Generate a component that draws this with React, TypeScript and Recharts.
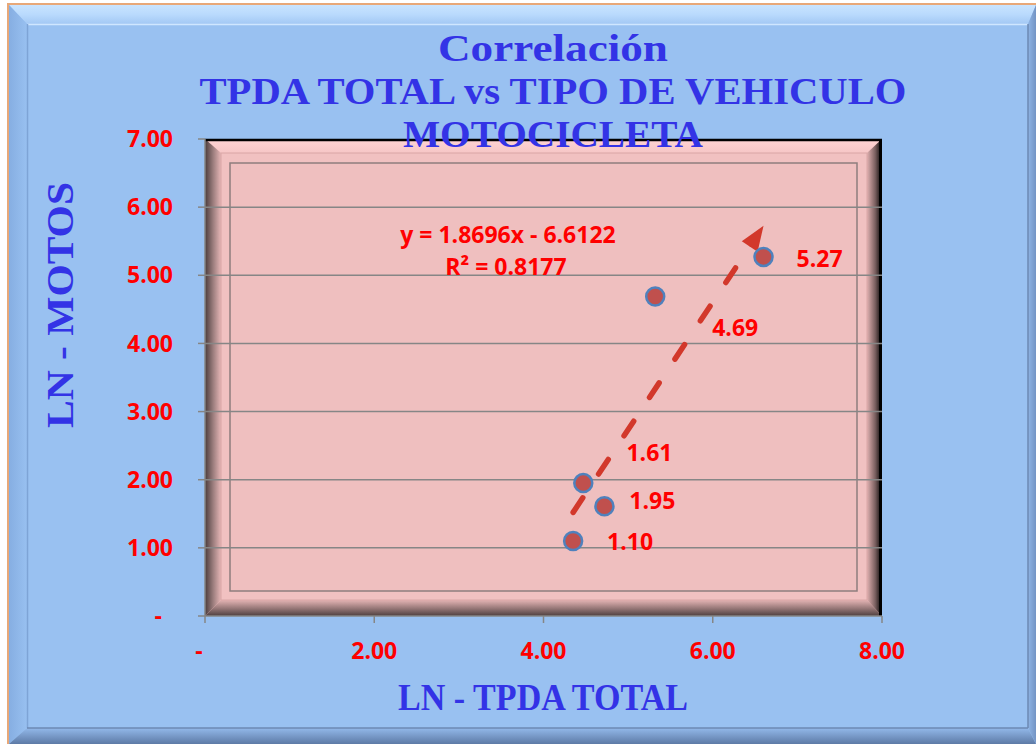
import React from 'react';
import { ScatterChart, Scatter, XAxis, YAxis, CartesianGrid, ReferenceLine } from 'recharts';

// ---- data ----
const lnTpda = [4.35, 4.47, 4.72, 5.32, 6.6];
const lnMotos = [1.1, 1.95, 1.61, 4.69, 5.27];
const xTicks = [0, 2, 4, 6, 8];
const yTicks = [0, 1, 2, 3, 4, 5, 6, 7];
const gridValues = [1, 2, 3, 4, 5, 6];
const trendSlope = 1.8696;
const trendIntercept = -6.6122;
const trendR2 = 0.8177;
const titleLines = ['Correlación', 'TPDA TOTAL vs TIPO DE VEHICULO', 'MOTOCICLETA'];
const xTitle = 'LN - TPDA TOTAL';
const yTitle = 'LN  - MOTOS';

const points = lnTpda.map((x, i) => ({ x, y: lnMotos[i] }));
const xMin = Math.min(...lnTpda);
const xMax = Math.max(...lnTpda);
const trendSegment = [
  { x: xMin, y: trendSlope * xMin + trendIntercept },
  { x: xMax, y: trendSlope * xMax + trendIntercept },
];

// ---- layout / style ----
const W = 1036;
const H = 744;
const PL = 205, PT = 139, PR = 882, PB = 616;
const RED = '#ff0000';
const BLUE = '#3333e6';
const TICK_FONT = "'Open Sans', sans-serif";
const TICK_SIZE = 23;
const TITLE_FONT = "'Liberation Serif', 'Times New Roman', serif";
// manual data label offsets (label start x, label centre y relative to point)
const LABEL_OFFSETS = [
  [34, 1],
  [46, 18],
  [22, -53],
  [57, 31],
  [33, 2],
];

const fmt = (v: number) => (v === 0 ? '-' : v.toFixed(2));

const XTick = (props: any) => {
  const { x, y, payload } = props;
  const v = payload.value;
  return (
    <text x={x + (v === 0 ? -6 : 0)} y={y} dy="0.71em" textAnchor="middle"
      fontFamily={TICK_FONT} fontWeight={700} fontSize={TICK_SIZE} fill={RED}>{fmt(v)}</text>
  );
};

const YTick = (props: any) => {
  const { x, y, payload } = props;
  const v = payload.value;
  return (
    <text x={x + (v === 0 ? -11 : 0)} y={y} dy="0.355em" textAnchor="end"
      fontFamily={TICK_FONT} fontWeight={700} fontSize={TICK_SIZE} fill={RED}>{fmt(v)}</text>
  );
};

const PointShape = (props: any) => {
  const { cx, cy, payload } = props;
  let idx = lnTpda.findIndex((x, i) => x === payload?.x && lnMotos[i] === payload?.y);
  if (idx < 0) idx = 0;
  const [dx, dy] = LABEL_OFFSETS[idx] || [33, 0];
  return (
    <g>
      <circle cx={cx} cy={cy} r={9} fill="#c0504d" stroke="#4f81bd" strokeWidth={2.5} />
      <text x={cx + dx} y={cy + dy} dy="0.355em" textAnchor="start"
        fontFamily={TICK_FONT} fontWeight={700} fontSize={TICK_SIZE} fill={RED}>{lnMotos[idx].toFixed(2)}</text>
    </g>
  );
};

const TrendShape = (p: any) => {
  const { x1, y1, x2, y2 } = p;
  if ([x1, y1, x2, y2].some((v) => typeof v !== 'number' || isNaN(v))) return <g />;
  const dx = x2 - x1, dy = y2 - y1;
  const len = Math.hypot(dx, dy) || 1;
  const ux = dx / len, uy = dy / len;
  const L = 25, HW = 9.5;
  const bx = x2 - ux * L, by = y2 - uy * L;
  const px = -uy, py = ux;
  const col = '#d2382b';
  return (
    <g>
      <line x1={x1} y1={y1} x2={bx + ux * 3} y2={by + uy * 3} stroke={col} strokeWidth={5.5}
        strokeDasharray="17.5 28.5" strokeLinecap="round" />
      <polygon points={`${x2},${y2} ${bx + px * HW},${by + py * HW} ${bx - px * HW},${by - py * HW}`} fill={col} />
    </g>
  );
};

const Background = () => (
  <svg width={W} height={H} style={{ position: 'absolute', left: 0, top: 0 }}>
    <defs>
      <linearGradient id="oTop" x1="0" y1="0" x2="0" y2="1">
        <stop offset="0" stopColor="#c9e4ff" />
        <stop offset="0.5" stopColor="#b9dafd" />
        <stop offset="1" stopColor="#a3c8f4" />
      </linearGradient>
      <linearGradient id="oLeft" x1="0" y1="0" x2="1" y2="0">
        <stop offset="0" stopColor="#86aee2" />
        <stop offset="1" stopColor="#98c0f0" />
      </linearGradient>
      <linearGradient id="oBottom" x1="0" y1="0" x2="0" y2="1">
        <stop offset="0" stopColor="#93b9ea" />
        <stop offset="1" stopColor="#5d7aa6" />
      </linearGradient>
      <linearGradient id="oRight" x1="0" y1="0" x2="1" y2="0">
        <stop offset="0" stopColor="#8fb4e4" />
        <stop offset="1" stopColor="#7394c4" />
      </linearGradient>
      <linearGradient id="pTop" x1="0" y1="0" x2="0" y2="1">
        <stop offset="0" stopColor="#ffd4d4" />
        <stop offset="1" stopColor="#f6c6c6" />
      </linearGradient>
      <linearGradient id="pLeft" x1="0" y1="0" x2="1" y2="0">
        <stop offset="0" stopColor="#4a3c3c" />
        <stop offset="0.5" stopColor="#9a7c7c" />
        <stop offset="1" stopColor="#e6b6b6" />
      </linearGradient>
      <linearGradient id="pBottom" x1="0" y1="0" x2="0" y2="1">
        <stop offset="0" stopColor="#e4b4b4" />
        <stop offset="0.5" stopColor="#9a7a7a" />
        <stop offset="1" stopColor="#4e4040" />
      </linearGradient>
      <linearGradient id="pRight" x1="0" y1="0" x2="1" y2="0">
        <stop offset="0" stopColor="#e0b0b0" />
        <stop offset="0.55" stopColor="#7a6060" />
        <stop offset="1" stopColor="#000000" />
      </linearGradient>
    </defs>
    {/* outer frame */}
    <rect x={7} y={3} width={W - 7} height={H - 3} fill="#e8a878" />
    <rect x={9} y={5} width={W - 9} height={H - 5} fill="#99c2f2" />
    <polygon points={`9,5 ${W},5 1028,24 27,24`} fill="url(#oTop)" />
    <polygon points={`9,5 27,24 27,728 9,${H}`} fill="url(#oLeft)" />
    <polygon points={`9,${H} 27,728 1028,728 ${W},${H}`} fill="url(#oBottom)" />
    <polygon points={`${W},5 1028,24 1028,728 ${W},${H}`} fill="url(#oRight)" />
    <rect x={27} y={24} width={1001} height={704} fill="#99c1f1" />
    <line x1={27} y1={24.5} x2={1028} y2={24.5} stroke="#cfe6ff" strokeWidth={1.5} />
    <line x1={27.5} y1={24} x2={27.5} y2={728} stroke="#7ea4d6" strokeWidth={1.5} />
    <line x1={1028} y1={24} x2={1028} y2={728} stroke="#6d89b3" strokeWidth={1.5} />
    <line x1={27} y1={728} x2={1028} y2={728} stroke="#6d89b3" strokeWidth={1.5} />

    {/* plot area bevel */}
    <rect x={PL} y={PT} width={PR - PL} height={PB - PT} fill="#f0bebe" />
    <polygon points={`${PL},${PT} ${PR},${PT} ${PR - 15},${PT + 14} ${PL + 16},${PT + 14}`} fill="url(#pTop)" />
    <polygon points={`${PL},${PT} ${PL + 16},${PT + 14} ${PL + 16},${PB - 16} ${PL},${PB}`} fill="url(#pLeft)" />
    <polygon points={`${PL},${PB} ${PL + 16},${PB - 16} ${PR - 15},${PB - 16} ${PR},${PB}`} fill="url(#pBottom)" />
    <polygon points={`${PR},${PT} ${PR - 15},${PT + 14} ${PR - 15},${PB - 16} ${PR},${PB}`} fill="url(#pRight)" />
    <line x1={PL} y1={PT + 1} x2={PR} y2={PT + 1} stroke="#000" strokeWidth={2.5} />
    <line x1={PR - 1.5} y1={PT} x2={PR - 1.5} y2={PB} stroke="#000" strokeWidth={3} />
    <rect x={PL + 16} y={PT + 14} width={PR - PL - 31} height={PB - PT - 30} fill="#f1c1c1" stroke="#d9a6a6" strokeWidth={1} />
    <rect x={230} y={163} width={627} height={428} fill="#efbfbf" stroke="#8e7e7e" strokeWidth={1.5} />
  </svg>
);

const Overlay = () => (
  <svg width={W} height={H} style={{ position: 'absolute', left: 0, top: 0, pointerEvents: 'none' }}>
    <g fontFamily={TITLE_FONT} fontWeight={700} fill={BLUE} fontSize={37}>
      <text x={553} y={61} textAnchor="middle" textLength={230} lengthAdjust="spacingAndGlyphs">{titleLines[0]}</text>
      <text x={553} y={104} textAnchor="middle" textLength={707} lengthAdjust="spacingAndGlyphs">{titleLines[1]}</text>
      <text x={553} y={147} textAnchor="middle" textLength={300} lengthAdjust="spacingAndGlyphs">{titleLines[2]}</text>
      <text x={543} y={710} textAnchor="middle" textLength={290} lengthAdjust="spacingAndGlyphs">{xTitle}</text>
      <text x={73} y={305} textAnchor="middle" transform="rotate(-90 73 305)" textLength={246} lengthAdjust="spacingAndGlyphs">{yTitle}</text>
    </g>
    <g fontFamily={TICK_FONT} fontWeight={700} fill={RED} fontSize={TICK_SIZE}>
      <text x={508} y={243} textAnchor="middle">{`y = ${trendSlope}x - ${Math.abs(trendIntercept)}`}</text>
      <text x={506} y={275} textAnchor="middle">{`R² = ${trendR2}`}</text>
    </g>
  </svg>
);

export default function App() {
  return (
    <div style={{ position: 'absolute', left: 0, top: 0, width: W, height: H, background: '#fff', overflow: 'hidden' }}>
      <Background />
      <div style={{ position: 'absolute', left: 0, top: 0 }}>
        <ScatterChart width={W} height={H} margin={{ top: PT, right: W - PR, bottom: H - PB - 30, left: PL - 80 }}>
          <CartesianGrid horizontal vertical={false} horizontalValues={gridValues} stroke="#868686" strokeWidth={1.5} />
          <XAxis type="number" dataKey="x" domain={[0, 8]} ticks={xTicks} interval={0} height={30}
            tickSize={7} tickMargin={20} tick={<XTick />} axisLine={{ stroke: '#868686', strokeWidth: 1.5 }}
            tickLine={{ stroke: '#868686', strokeWidth: 1.5 }} allowDataOverflow />
          <YAxis type="number" dataKey="y" domain={[0, 7]} ticks={yTicks} interval={0} width={80}
            tickSize={7} tickMargin={25} tick={<YTick />} axisLine={{ stroke: '#868686', strokeWidth: 1.5 }}
            tickLine={{ stroke: '#868686', strokeWidth: 1.5 }} allowDataOverflow />
          <ReferenceLine segment={trendSegment} shape={TrendShape} ifOverflow="visible" />
          <Scatter data={points} shape={PointShape} isAnimationActive={false} />
        </ScatterChart>
      </div>
      <Overlay />
    </div>
  );
}
